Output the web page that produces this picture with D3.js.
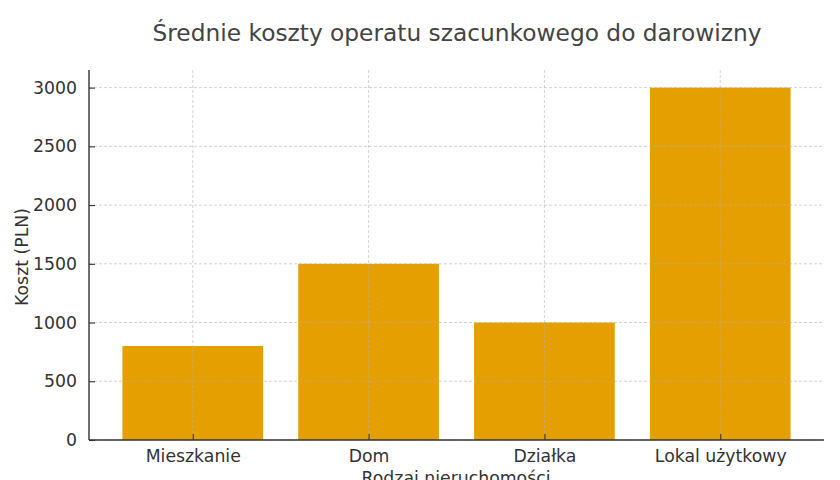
<!DOCTYPE html>
<html><head><meta charset="utf-8">
<script src="https://cdn.jsdelivr.net/npm/d3@7/dist/d3.min.js"></script>
<style>body{margin:0;background:#fff}svg{display:block;font-family:"DejaVu Sans",sans-serif}</style>
</head><body><svg id="c" width="840" height="480"></svg>
<script>
const categories = ["Mieszkanie", "Dom", "Działka", "Lokal użytkowy"];
const values = [800, 1500, 1000, 3000];
const yTicks = [0, 500, 1000, 1500, 2000, 2500, 3000];
const title = "Średnie koszty operatu szacunkowego do darowizny";
const xLabel = "Rodzaj nieruchomości";
const yLabel = "Koszt (PLN)";

const svg = d3.select("#c");
const L = 89, R = 824, T = 70, B = 440;
const x = d3.scaleLinear().domain([-0.59, categories.length - 1 + 0.59]).range([L, R]);
const y = d3.scaleLinear().domain([0, 3150]).range([B, T]);
const bw = x(0.8) - x(0);
const color = "#E5A000";

// bars
svg.append("g").selectAll("rect").data(values).join("rect")
  .attr("x", (d, i) => x(i - 0.4)).attr("width", bw)
  .attr("y", d => y(d)).attr("height", d => y(0) - y(d))
  .attr("fill", color);

// grid
const g = svg.append("g").attr("stroke", "#b0b0b0").attr("stroke-opacity", 0.7)
  .attr("stroke-dasharray", "3,2").attr("stroke-width", 0.8);
g.selectAll("line.h").data(yTicks).join("line").attr("class", "h")
  .attr("x1", L).attr("x2", R).attr("y1", d => y(d)).attr("y2", d => y(d));
g.selectAll("line.v").data(categories).join("line").attr("class", "v")
  .attr("x1", (d, i) => x(i)).attr("x2", (d, i) => x(i)).attr("y1", T).attr("y2", B);

// axes
const yAxis = d3.axisLeft(y).tickValues(yTicks).tickFormat(d3.format("d"))
  .tickSizeInner(-6).tickSizeOuter(0).tickPadding(12);
const ya = svg.append("g").attr("transform", `translate(${L},0)`).call(yAxis);
const xAxis = d3.axisBottom(x).tickValues(d3.range(categories.length)).tickFormat(i => categories[i])
  .tickSizeInner(-6).tickSizeOuter(0).tickPadding(10);
const xa = svg.append("g").attr("transform", `translate(0,${B})`).call(xAxis);
[ya, xa].forEach(a => {
  a.select(".domain").attr("stroke", "#333").attr("stroke-width", 1.4);
  a.selectAll(".tick line").attr("stroke", "#333").attr("stroke-width", 1.1);
  a.selectAll(".tick text").attr("fill", "#333").style("font-size", "17.3px").style("font-family", "DejaVu Sans");
});
ya.select(".domain").attr("d", `M0,${T}V${B}`);
xa.select(".domain").attr("d", `M${L},0H${R}`);

svg.append("text").attr("x", 457).attr("y", 41).attr("text-anchor", "middle")
  .attr("fill", "#444").style("font-size", "23.3px").text(title);
svg.append("text").attr("x", 456).attr("y", 484).attr("text-anchor", "middle")
  .attr("fill", "#333").style("font-size", "17.3px").text(xLabel);
svg.append("text").attr("transform", `translate(28,${(T + B) / 2 + 2}) rotate(-90)`).attr("text-anchor", "middle")
  .attr("fill", "#333").style("font-size", "17.3px").text(yLabel);
</script></body></html>
